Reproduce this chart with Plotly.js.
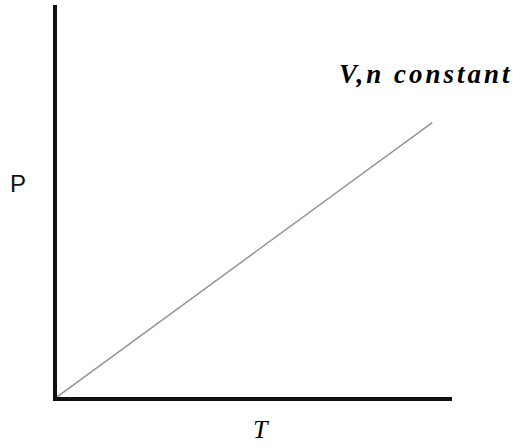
<!DOCTYPE html>
<html>
<head>
<meta charset="utf-8">
<script src="https://cdn.plot.ly/plotly-3.0.1.min.js"></script>
<style>
  html, body { margin: 0; padding: 0; background: #fff; }
  #chart { width: 527px; height: 448px; }
  .annotation[data-index="0"] text { letter-spacing: 3px; }
</style>
</head>
<body>
<div id="chart"></div>
<script>
// Pressure rises linearly with temperature at fixed volume and amount of gas
const temperature = [0, 95];
const pressure = [0, 70];
const curveLabel = 'V,n constant';
const xLabel = 'T';
const yLabel = 'P';

const trace = {
  x: temperature,
  y: pressure,
  type: 'scatter',
  mode: 'lines',
  line: { color: '#949494', width: 1.5 },
  hoverinfo: 'skip'
};

const axisStyle = {
  range: [0, 100],
  showline: true,
  linecolor: '#111',
  linewidth: 4,
  showgrid: false,
  zeroline: false,
  ticks: '',
  showticklabels: false,
  fixedrange: true
};

const serif = 'Liberation Serif';
const sans = 'Liberation Sans';

const layout = {
  width: 527,
  height: 448,
  margin: { l: 57, r: 75, t: 5, b: 51 },
  paper_bgcolor: '#fff',
  plot_bgcolor: '#fff',
  showlegend: false,
  xaxis: Object.assign({}, axisStyle),
  yaxis: Object.assign({}, axisStyle),
  annotations: [
    {
      text: '<b><i>' + curveLabel + '</i></b>',
      xref: 'paper', yref: 'paper',
      x: 0.935, y: 0.825,
      xanchor: 'center', yanchor: 'middle',
      showarrow: false,
      font: { family: serif, size: 27, color: '#000' }
    },
    {
      text: yLabel,
      xref: 'paper', yref: 'paper',
      x: -0.0975, y: 0.545,
      xanchor: 'center', yanchor: 'middle',
      showarrow: false,
      font: { family: sans, size: 24, color: '#111' }
    },
    {
      text: '<i>' + xLabel + '</i>',
      xref: 'paper', yref: 'paper',
      x: 0.516, y: -0.084,
      xanchor: 'center', yanchor: 'middle',
      showarrow: false,
      font: { family: serif, size: 26, color: '#000' }
    }
  ]
};

Plotly.newPlot('chart', [trace], layout, { displayModeBar: false, staticPlot: true });
</script>
</body>
</html>
